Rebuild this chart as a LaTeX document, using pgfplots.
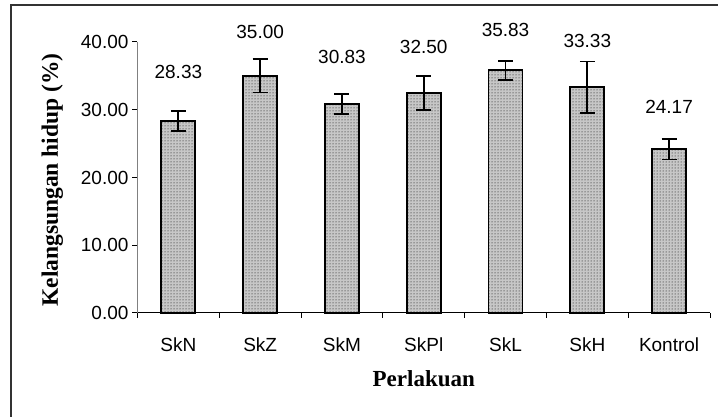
\documentclass[border=0pt]{standalone}
\usepackage{pgfplots}
\pgfplotsset{compat=1.18}
\usepackage{pgfplotstable}
\usetikzlibrary{patterns}
\usepackage{fontspec}
\setmainfont{Liberation Sans}
\newfontfamily\titlefont{Liberation Serif}

\pgfplotstableread{
x y e
0 28.33 1.45
1 35.00 2.45
2 30.83 1.47
3 32.50 2.50
4 35.83 1.40
5 33.33 3.80
6 24.17 1.50
}\bars

\pgfplotstableread{
x y lab
0 35.57 28.33
1 41.48 35.00
2 37.79 30.83
3 39.26 32.50
4 41.77 35.83
5 40.15 33.33
6 30.41 24.17
}\labels

\begin{document}
\begin{tikzpicture}
\useasboundingbox (-137.5pt,-104pt) rectangle (580.5pt,313pt);
\draw[line width=1.6pt, black!80] (-126.5pt,-110pt) -- (-126.5pt,308pt) -- (590pt,308pt);
\begin{axis}[
  at={(0pt,0pt)}, anchor=south west,
  scale only axis, width=572.5pt, height=271pt,
  xmin=-0.5, xmax=6.5, ymin=0, ymax=40,
  clip=false,
  axis x line*=bottom, axis y line*=left,
  x axis line style={black, line width=1pt},
  y axis line style={black!50, line width=1.2pt},
  tick align=outside,
  major tick length=5pt, minor tick length=5pt,
  xtick={0,1,2,3,4,5,6},
  xticklabels={SkN,SkZ,SkM,SkPl,SkL,SkH,Kontrol},
  major x tick style={draw=none},
  minor xtick={-0.5,0.5,1.5,2.5,3.5,4.5,5.5,6.5},
  minor x tick style={black, line width=1pt},
  xticklabel style={anchor=base, yshift=-34pt},
  ytick={0,10,20,30,40},
  ytick style={black, line width=1pt},
  yticklabel style={xshift=-0.5pt},
  ticklabel style={font=\fontsize{19}{22}\selectfont},
  /pgf/number format/.cd, fixed, fixed zerofill, precision=2, assume math mode=true,
  /pgfplots/.cd,
  xlabel={Perlakuan},
  ylabel={Kelangsungan hidup (\%)},
  xlabel style={font=\titlefont\bfseries\fontsize{23}{26}\selectfont,
    at={(axis description cs:0.5,-0.2435)}, anchor=center},
  ylabel style={font=\titlefont\bfseries\fontsize{23.5}{26}\selectfont,
    at={(axis description cs:-0.149,0.491)}, anchor=center, rotate=0},
]
\addplot[ybar, bar width=34pt, draw=black, line width=1.8pt, fill=black!22,
  postaction={pattern=dots, pattern color=black},
  error bars/.cd, y dir=both, y explicit,
  error bar style={line width=1.8pt, black},
  error mark options={line width=1.8pt, mark size=7.5pt, black, rotate=90}]
  table[x=x, y=y, y error=e]{\bars};
\addplot[draw=none, mark=none, nodes near coords, point meta=explicit symbolic,
  every node near coord/.style={anchor=center, font=\fontsize{19}{22}\selectfont, black}]
  table[x=x, y=y, meta=lab]{\labels};
\end{axis}
\end{tikzpicture}
\end{document}
